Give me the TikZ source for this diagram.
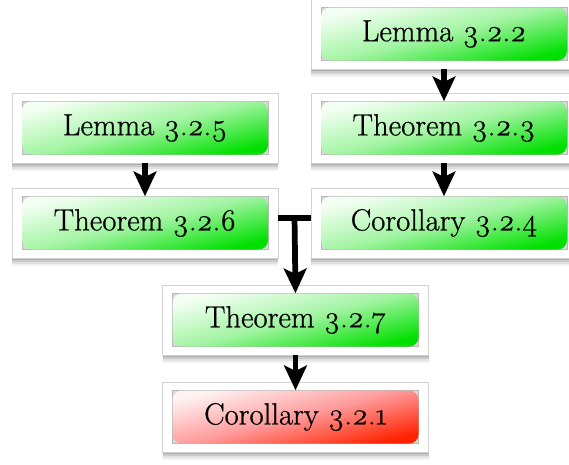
\documentclass[tikz,border=0pt]{standalone}
\usepackage{fontspec}
\setmainfont{Latin Modern Roman}[Numbers=OldStyle]
\newfontfamily\cardfont{Latin Modern Roman}[Numbers=OldStyle, FakeBold=0.7]
\usetikzlibrary{arrows.meta,calc}
\definecolor{gA}{HTML}{F4FFF4}
\definecolor{gM}{HTML}{A2F4A2}
\definecolor{gB}{HTML}{00E000}
\definecolor{rA}{HTML}{FFF2F2}
\definecolor{rM}{HTML}{FF9A9A}
\definecolor{rB}{HTML}{FF2200}
\tikzset{
  frame/.style={rectangle, draw=gray!35, line width=0.5pt, fill=white,
    minimum width=266*0.75pt, minimum height=70*0.75pt, inner sep=0pt,
    preaction={fill=black, opacity=0.14, transform canvas={yshift=-1.5pt}},
    preaction={fill=black, opacity=0.10, transform canvas={yshift=-3pt}},
    preaction={fill=black, opacity=0.07, transform canvas={yshift=-4.5pt}},
    preaction={fill=black, opacity=0.05, transform canvas={yshift=-6pt}}},
  cbox/.style={rectangle, draw=gray!55, line width=0.4pt, fill=gray!30,
    minimum width=246*0.75pt, minimum height=53*0.75pt, inner sep=0pt},
  card/.style={rectangle, rounded corners=7pt, inner sep=0pt,
    minimum width=246*0.75pt, minimum height=53*0.75pt,
    font=\cardfont\fontsize{23}{27}\selectfont, text=black},
  greencard/.style={card, top color=gA, bottom color=gB, middle color=gM, shading angle=14},
  redcard/.style={card, top color=rA, bottom color=rB, middle color=rM, shading angle=14},
  arr/.style={line width=4.3pt, -{Stealth[length=18.5pt, width=17pt, inset=4pt]}},
  bar/.style={line width=4.5pt}
}
\newcommand\mycard[5]{%
  \node[frame] (f#1) at (#2,#3) {};
  \node[cbox] (c#1) at (#2,#3) {};
  \node[#5] (#1) at (#2,#3) {#4};
}
\begin{document}
\begin{tikzpicture}[x=0.75pt, y=-0.75pt]
\useasboundingbox (0,0) rectangle (569,465);
\mycard{L322}{444}{34}{Lemma 3.2.2}{greencard}
\mycard{T323}{444}{128}{Theorem 3.2.3}{greencard}
\mycard{C324}{444}{223}{Corollary 3.2.4}{greencard}
\mycard{L325}{145}{128}{Lemma 3.2.5}{greencard}
\mycard{T326}{145}{223}{Theorem 3.2.6}{greencard}
\mycard{T327}{295.5}{320}{Theorem 3.2.7}{greencard}
\mycard{C321}{295.5}{417}{Corollary 3.2.1}{redcard}
\draw[arr] (fL322.south) -- (T323.north);
\draw[arr] (fT323.south) -- (C324.north);
\draw[arr] (fL325.south) -- (T326.north);
\draw[arr] (fT327.south) -- (C321.north);
\coordinate (ta) at ($(fT326.east)+(0,-5)$);
\coordinate (tb) at ($(fC324.west)+(0,-5)$);
\coordinate (tj) at ($(ta)!0.5!(tb)$);
\draw[bar] (ta) -- (tb);
\draw[arr] ([yshift=2pt]tj) -- (T327.north);
\end{tikzpicture}
\end{document}
